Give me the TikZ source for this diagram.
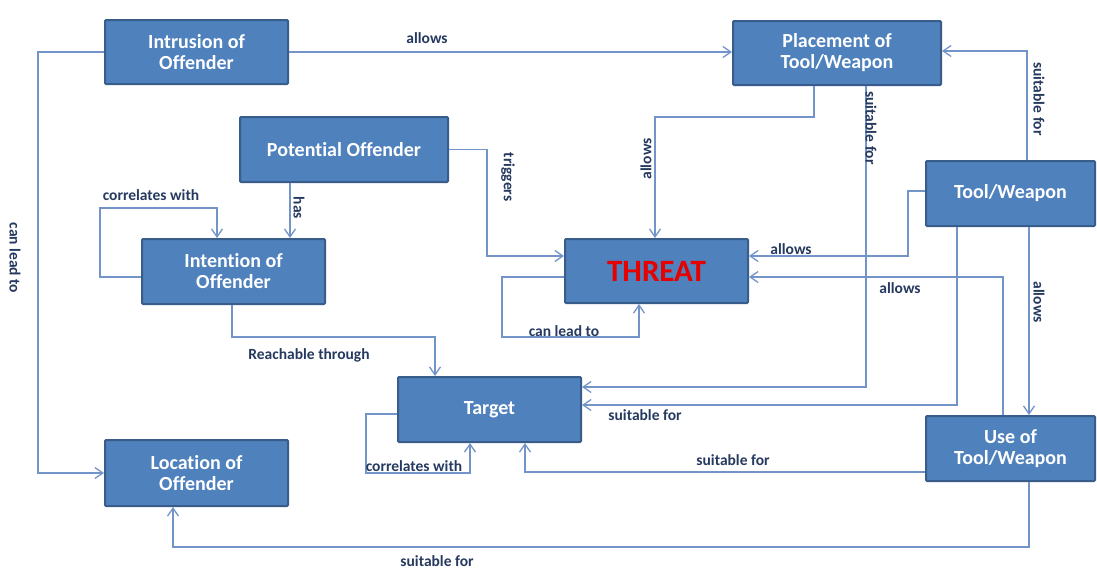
\documentclass[tikz,border=0pt]{standalone}
\usepackage{fontspec}
\setmainfont[Ligatures=NoCommon]{Carlito}
\usetikzlibrary{arrows.meta}
\definecolor{boxfill}{RGB}{79,129,189}
\definecolor{boxline}{RGB}{56,93,138}
\definecolor{wire}{RGB}{115,148,200}
\definecolor{lbl}{RGB}{38,58,96}
\definecolor{threatred}{RGB}{230,0,0}
\begin{document}
\begin{tikzpicture}[x=1pt,y=-1pt,
  box/.style={draw=boxline, fill=boxfill, line width=2pt, text=white,
    font=\fontsize{20}{21}\selectfont\bfseries, align=center, inner sep=0pt, rounded corners=1pt},
  wbox/.style={box, minimum width=183pt, minimum height=64pt},
  conn/.style={draw=wire, line width=1.3pt, -{Straight Barb[length=8pt,width=11pt]}},
  lab/.style={text=lbl, font=\fontsize{15.5}{17}\selectfont\bfseries, inner sep=0pt}]
\useasboundingbox (0,0) rectangle (1097,570);
\fill[white] (0,0) rectangle (1097,570);

% nodes
\node[wbox] (intr) at (196.5,52) {Intrusion of\\Offender};
\node[box, minimum width=208pt, minimum height=64pt] (place) at (837,53) {Placement of\\Tool/Weapon};
\node[box, minimum width=208pt, minimum height=65pt] (pot) at (344,149.5) {Potential Offender};
\node[wbox, minimum height=65pt] (intent) at (233.5,271.5) {Intention of\\Offender};
\node[box, minimum width=169pt, minimum height=65pt] (tool) at (1010.5,193.5) {Tool/Weapon};
\node[wbox, text=threatred, font=\fontsize{31}{33}\selectfont\bfseries] (threat) at (656.5,271) {THREAT};
\node[wbox, minimum height=65pt] (target) at (489.5,409.5) {Target};
\node[wbox, minimum height=66pt] (loc) at (196.5,473) {Location of\\Offender};
\node[box, minimum width=169pt, minimum height=65pt] (use) at (1010.5,448.5) {Use of\\Tool/Weapon};

% connectors
\draw[conn] (intr.west) -| (38,300) |- (loc.west);
\draw[conn] (intr.east) -- (place.west |- intr.east);
\draw[conn] (pot.south -| 290,0) -- (intent.north -| 290,0);
\draw[conn] (intent.west |- 0,277) -| (100,208) -| (intent.north -| 217,0);
\draw[conn] (pot.east) -| (487,200) |- (threat.west |- 0,256);
\draw[conn] (place.south -| 814,0) |- (655,117) -- (threat.north -| 655,0);
\draw[conn] (tool.north -| 1027,0) |- (place.east |- 0,51);
\draw[conn] (place.south -| 866,0) |- (target.east |- 0,387);
\draw[conn] (tool.west |- 0,191) -| (908,220) |- (threat.east |- 0,256);
\draw[conn] (use.north -| 1003,0) |- (threat.east |- 0,277);
\draw[conn] (tool.south -| 957,0) |- (target.east |- 0,405);
\draw[conn] (tool.south -| 1029,0) -- (use.north -| 1029,0);
\draw[conn] (use.west |- 0,472) -| (target.south -| 525,0);
\draw[conn] (use.south -| 1029,0) |- (173,547) -- (loc.south -| 173,0);
\draw[conn] (intent.south -| 232,0) |- (435,337) -- (target.north -| 435,0);
\draw[conn] (threat.west |- 0,277) -| (502,337) -| (threat.south -| 639,0);
\draw[conn] (target.west |- 0,414) -| (366,473) -| (target.south -| 470,0);

% labels
\node[lab, rotate=-90] (l1) at (15,258) {can lead to};
\node[lab] (l2) at (427,38) {allows};
\node[lab, rotate=-90] (l3) at (299,208) {has};
\node[lab] (l4) at (151,195) {correlates with};
\node[lab, rotate=-90] (l5) at (508,177) {triggers};
\node[lab, rotate=90] (l6) at (646,159) {allows};
\node[lab, rotate=-90] (l7) at (1039,99) {suitable for};
\node[lab, rotate=-90] (l8) at (871,128) {suitable for};
\node[lab] (l9) at (791,249) {allows};
\node[lab] (l10) at (900,288) {allows};
\node[lab] (l11) at (645,415) {suitable for};
\node[lab, rotate=-90] (l12) at (1039,302) {allows};
\node[lab] (l13) at (733,460) {suitable for};
\node[lab] (l14) at (437,561) {suitable for};
\node[lab] (l15) at (309,355) {Reachable through};
\node[lab] (l16) at (564,331) {can lead to};
\node[lab] (l17) at (414,466) {correlates with};
\end{tikzpicture}
\end{document}
